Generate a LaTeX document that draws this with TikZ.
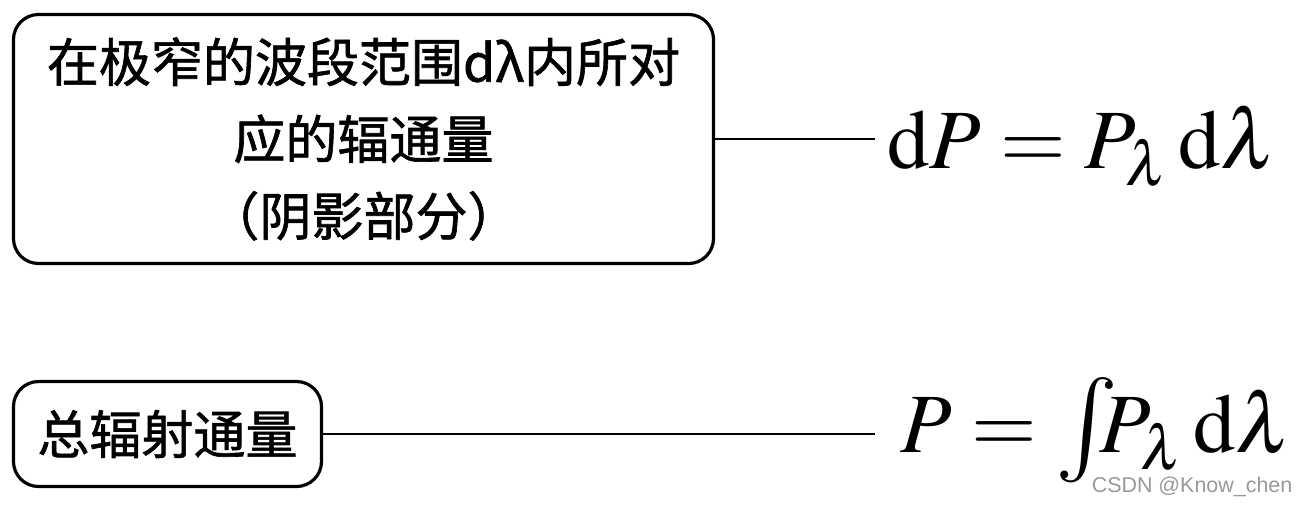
\documentclass[tikz,border=0pt]{standalone}
\usepackage{amsmath}
\usepackage{mathptmx}
\usepackage{graphicx}
\usepackage{fontspec}
\setmainfont{Liberation Serif}
\newfontfamily\cjkfont[FakeBold=1.2]{Noto Sans CJK SC}
\newfontfamily\wmfont{Liberation Sans}
\usetikzlibrary{positioning}

\begin{document}
\begin{tikzpicture}[
    box/.style={draw, line width=0.9pt, rounded corners=2.5mm, align=center, inner sep=0pt,
      font=\cjkfont\fontsize{14.8}{21.9}\selectfont},
    formula/.style={anchor=base west, inner ysep=0pt, font=\fontsize{24}{28}\selectfont},
    link/.style={line width=0.8pt}
  ]
    \useasboundingbox (0,0) rectangle (12.97,5.07);

    \node[box, minimum width=7.0cm, minimum height=2.49cm] (band) at (3.635,3.68)
      {在极窄的波段范围dλ内所对\\应的辐通量\\（阴影部分）};
    \node[box, minimum width=3.08cm, minimum height=1.05cm] (total) at (1.675,0.73) {总辐射通量};

    \node[formula, inner xsep=1.2mm] (dP) at (8.75,3.39) {$\mathrm{d}P=P_{\lambda}\,\mathrm{d}\lambda$};
    \node[formula, inner xsep=2.5mm] (P) at (8.75,0.55)
      {$P=\mathop{\raisebox{-0.5mm}{\scalebox{1.25}{$\textstyle\int$}}}\nolimits\!\!\!P_{\lambda}\,\mathrm{d}\lambda$};

    \draw[link] (band.east) -- (band.east -| dP.west);
    \draw[link] (total.east) -- (total.east -| P.west);

    \node[anchor=base east, inner sep=0pt, text=black!40, font=\wmfont\fontsize{6.1}{7}\selectfont] (wm)
      at (12.93,0.15) {CSDN @Know\_chen};
  \end{tikzpicture}
\end{document}
